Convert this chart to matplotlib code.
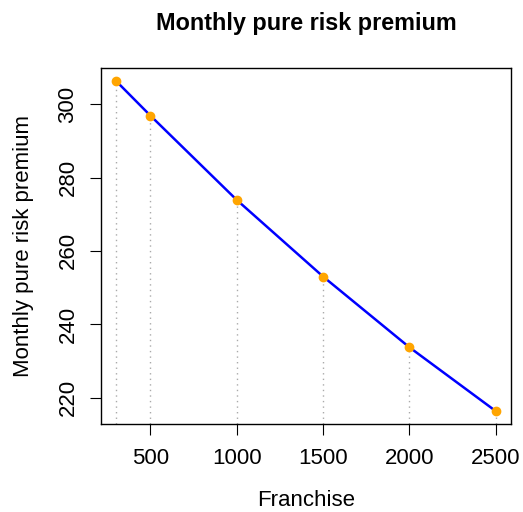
import matplotlib
matplotlib.use("Agg")
import matplotlib.pyplot as plt

plt.rcParams['font.family'] = ['Liberation Sans', 'DejaVu Sans']

# franchise levels and the monthly premium
franchise = [300, 500, 1000, 1500, 2000, 2500]
premium = [306.4, 296.9, 273.9, 253.0, 233.7, 216.3]
x_ticks = [500, 1000, 1500, 2000, 2500]
y_ticks = [220, 240, 260, 280, 300]

fig = plt.figure(figsize=(5.23, 5.12), dpi=100)
ax = fig.add_axes([0.1925, 0.1713, 0.7844, 0.6967])

# R-style 4% padding
xr = max(franchise) - min(franchise)
yr = max(premium) - min(premium)
ax.set_xlim(min(franchise) - 0.04 * xr, max(franchise) + 0.04 * xr)
ax.set_ylim(min(premium) - 0.04 * yr, max(premium) + 0.04 * yr)

ax.vlines(franchise, ax.get_ylim()[0], premium, colors='#aaaaaa',
          linestyles=(0, (1, 3)), linewidth=1)
ax.plot(franchise, premium, color='blue', lw=1.8)
ax.plot(franchise, premium, 'o', color='orange', markersize=6, zorder=3)

ax.set_xticks(x_ticks)
ax.set_yticks(y_ticks)
ax.set_yticklabels([str(v) for v in y_ticks], rotation=90, va='center')
ax.tick_params(direction='out', length=8, labelsize=16)
ax.tick_params(axis='x', pad=9)
ax.tick_params(axis='y', pad=8)
for s in ax.spines.values():
    s.set_linewidth(1)

fig.text(306 / 523, 1 - 506.5 / 512, "Franchise", fontsize=16,
         ha='center', va='baseline')
fig.text(29 / 523, 1 - 246 / 512, "Monthly pure risk premium", fontsize=16,
         rotation=90, rotation_mode='anchor', ha='center', va='baseline')
fig.text(306 / 523, 1 - 30 / 512, "Monthly pure risk premium", fontsize=16.8,
         fontweight='bold', ha='center', va='baseline')

fig.savefig("out.png", dpi=100)
